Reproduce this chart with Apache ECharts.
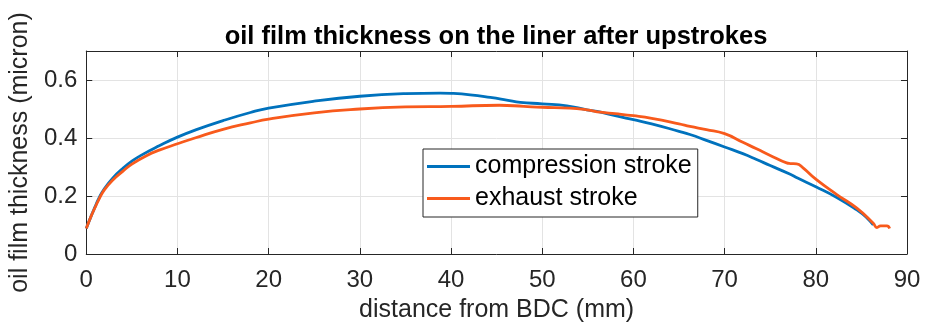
<!DOCTYPE html>
<html>
<head>
<meta charset="utf-8">
<script src="https://cdn.jsdelivr.net/npm/echarts@6/dist/echarts.min.js"></script>
<style>
  html, body { margin: 0; padding: 0; background: #fff; }
  #chart { width: 928px; height: 329px; }
</style>
</head>
<body>
<div id="chart"></div>
<script>
const compX = [0, 0.5, 1, 1.35, 2, 3, 4, 5, 6, 8, 10, 12, 15, 18, 20, 25, 30, 35, 38.8, 40, 42.1, 44.3, 46.1, 47.6, 50, 52.7, 54.9, 56.4, 58, 60, 62, 65, 66.2, 68, 70, 72, 73.5, 75, 77.2, 78, 80, 82.3, 84.5, 85.5, 86.3];
const compY = [0.088, 0.128, 0.165, 0.19, 0.226, 0.265, 0.295, 0.32, 0.34, 0.373, 0.403, 0.428, 0.46, 0.488, 0.503, 0.527, 0.544, 0.553, 0.555, 0.554, 0.549, 0.54, 0.531, 0.523, 0.518, 0.511, 0.497, 0.489, 0.477, 0.463, 0.449, 0.423, 0.412, 0.392, 0.369, 0.346, 0.326, 0.305, 0.275, 0.262, 0.232, 0.195, 0.152, 0.128, 0.1];
const exhX = [0, 0.5, 1, 1.35, 2, 3, 4, 5, 6.65, 8, 10, 12, 15, 18, 20, 25, 30, 35, 40, 45.3, 48, 50, 53, 54.9, 56.4, 58, 60, 62, 65, 66.2, 68, 70, 72, 73.5, 75, 76.8, 77.2, 77.9, 78.6, 80, 82.3, 84.5, 86.3, 86.7, 87.1, 87.8, 88.1];
const exhY = [0.088, 0.128, 0.163, 0.186, 0.222, 0.258, 0.285, 0.31, 0.34, 0.358, 0.38, 0.401, 0.43, 0.452, 0.465, 0.487, 0.5, 0.507, 0.509, 0.513, 0.509, 0.506, 0.503, 0.497, 0.489, 0.484, 0.477, 0.468, 0.449, 0.44, 0.429, 0.415, 0.385, 0.363, 0.34, 0.314, 0.312, 0.311, 0.297, 0.258, 0.205, 0.158, 0.106, 0.091, 0.097, 0.097, 0.088];
const seriesNames = ['compression stroke', 'exhaust stroke'];
const xTicks = { min: 0, max: 90, step: 10 };
const yTicks = { min: 0, max: 0.7, step: 0.2 };

const font = '"Liberation Sans", Arial, Helvetica, sans-serif';
const axisColor = '#262626';

const chart = echarts.init(document.getElementById('chart'));

const boxAxis = (extra) => Object.assign({
  type: 'value',
  axisLine: { show: true, onZero: false, lineStyle: { color: axisColor, width: 1 } },
  axisTick: { show: true, inside: true, length: 6, lineStyle: { color: axisColor } },
  axisLabel: { show: false },
  splitLine: { show: false }
}, extra);

chart.setOption({
  animation: false,
  title: {
    text: 'oil film thickness on the liner after upstrokes',
    left: 491, textAlign: 'center', top: 19,
    textStyle: { fontFamily: font, fontSize: 25.5, fontWeight: 'bold', color: '#000' }
  },
  grid: { left: 86, right: 21, top: 51, bottom: 75 },
  legend: {
    orient: 'vertical',
    left: 423, top: 149,
    padding: [4, 6, 5, 4],
    itemGap: 5,
    icon: 'rect',
    itemWidth: 43, itemHeight: 3,
    borderColor: axisColor, borderWidth: 1,
    backgroundColor: '#fff',
    data: seriesNames,
    textStyle: { fontFamily: font, fontSize: 25, color: '#000', lineHeight: 27 }
  },
  xAxis: [
    {
      type: 'value', min: xTicks.min, max: xTicks.max, interval: xTicks.step,
      name: 'distance from BDC (mm)', nameLocation: 'middle', nameGap: 44,
      nameTextStyle: { fontFamily: font, fontSize: 25, color: axisColor },
      axisLine: { show: true, onZero: false, lineStyle: { color: axisColor, width: 1 } },
      axisTick: { show: true, inside: true, length: 6, lineStyle: { color: axisColor } },
      axisLabel: { fontFamily: font, fontSize: 24, color: axisColor, margin: 14 },
      splitLine: { show: true, lineStyle: { color: '#e3e3e3', width: 1 } }
    },
    boxAxis({ position: 'top', min: xTicks.min, max: xTicks.max, interval: xTicks.step })
  ],
  yAxis: [
    {
      type: 'value', min: yTicks.min, max: yTicks.max, interval: yTicks.step,
      name: 'oil film thickness (micron)', nameLocation: 'middle', nameGap: 48,
      nameTextStyle: { fontFamily: font, fontSize: 25, color: axisColor },
      axisLine: { show: true, onZero: false, lineStyle: { color: axisColor, width: 1 } },
      axisTick: { show: true, inside: true, length: 6, lineStyle: { color: axisColor } },
      axisLabel: { fontFamily: font, fontSize: 24, color: axisColor, margin: 9, showMaxLabel: false },
      splitLine: { show: true, lineStyle: { color: '#e3e3e3', width: 1 } }
    },
    boxAxis({ position: 'right', min: yTicks.min, max: yTicks.max, interval: yTicks.step })
  ],
  series: [
    {
      name: seriesNames[0], type: 'line', symbol: 'none', smooth: true,
      data: compX.map((x, i) => [x, compY[i]]),
      lineStyle: { color: '#0072BD', width: 2.8 },
      itemStyle: { color: '#0072BD' }
    },
    {
      name: seriesNames[1], type: 'line', symbol: 'none', smooth: true,
      data: exhX.map((x, i) => [x, exhY[i]]),
      lineStyle: { color: '#F85A1C', width: 2.8 },
      itemStyle: { color: '#F85A1C' }
    }
  ]
});
</script>
</body>
</html>
